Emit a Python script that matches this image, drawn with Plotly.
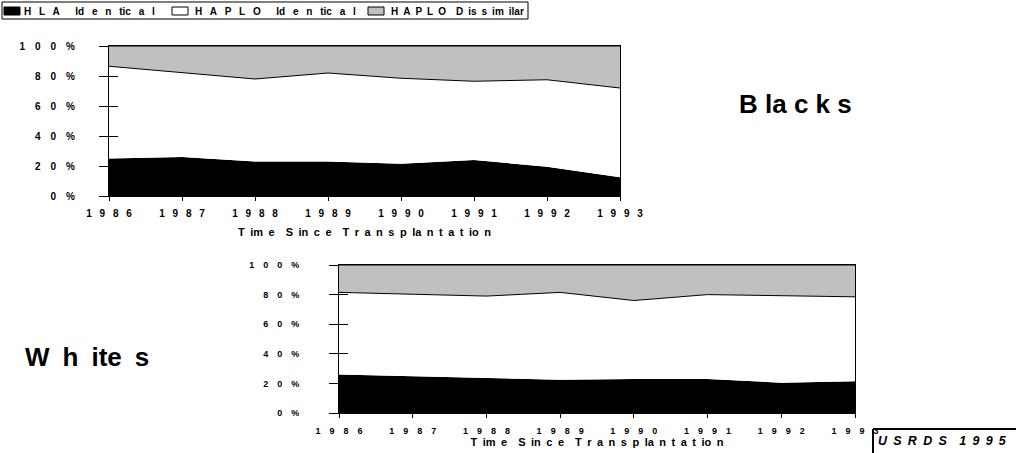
import plotly.graph_objects as go

years = [1986, 1987, 1988, 1989, 1990, 1991, 1992, 1993]
year_labels = ["1 9 8 6", "1 9 8 7", "1 9 8 8", "1 9 8 9", "1 9 9 0", "1 9 9 1", "1 9 9 2", "1 9 9 3"]
pct_vals = [0, 20, 40, 60, 80, 100]
pct_labels = ["0 %", "2 0 %", "4 0 %", "6 0 %", "8 0 %", "1 0 0 %"]

series_names = ["H L A  Id e n tic a l", "H A P L O  Id e n tic a l", "H A P L O  D is s im ilar"]
axis_title = "T im e  S in c e  T r a n s p la n t a t io n"
group_labels = ["B la c k s", "W h ite s"]
source_label = "U S R D S  1 9 9 5"

# Blacks (percent of transplants)
blacks_hla = [25, 26, 23, 23, 21.5, 24, 19.5, 12.5]
blacks_haplo_id = [61.5, 56, 55, 59, 57, 52.5, 58, 59.5]
blacks_haplo_dis = [13.5, 18, 22, 18, 21.5, 23.5, 22.5, 28]

# Whites
whites_hla = [26, 25, 24, 22.5, 23, 23, 20.5, 21.5]
whites_haplo_id = [55.5, 55.5, 55, 59, 53, 57, 58.5, 57]
whites_haplo_dis = [18.5, 19.5, 21, 18.5, 24, 20, 21, 21.5]

fills = ["#000000", "#FFFFFF", "#C0C0C0"]
line_w = [0, 1, 1]

FONT = "Arial, Liberation Sans, sans-serif"
EN = "\u2002"
EM = "\u2003"
NB = "\u00a0"


def sp(text, spacer):
    return text.replace(" ", spacer)


W, H = 1016, 453


def px_x(p):
    return p / W


def px_y(p):
    return 1 - p / H


fig = go.Figure()


def add_group(vals_list, xa, ya, group):
    for i, (name, vals) in enumerate(zip(series_names, vals_list)):
        fig.add_trace(go.Scatter(
            x=years, y=vals, name=name, mode="lines",
            stackgroup=group, fillcolor=fills[i],
            line=dict(color="#000000", width=line_w[i]),
            xaxis=xa, yaxis=ya, showlegend=False,
            hoverinfo="skip",
        ))


add_group([blacks_hla, blacks_haplo_id, blacks_haplo_dis], "x", "y", "b")
add_group([whites_hla, whites_haplo_id, whites_haplo_dis], "x2", "y2", "w")
# carriers for the inner half of the cross tick marks
fig.add_trace(go.Scatter(x=[years[0]], y=[0], mode="markers", marker=dict(opacity=0),
                         xaxis="x", yaxis="y3", showlegend=False, hoverinfo="skip"))
fig.add_trace(go.Scatter(x=[years[0]], y=[0], mode="markers", marker=dict(opacity=0),
                         xaxis="x2", yaxis="y4", showlegend=False, hoverinfo="skip"))

axis_common = dict(showgrid=False, zeroline=False, showline=True, linecolor="#000000",
                   linewidth=1, mirror=True, automargin=False, tickcolor="#000000", tickwidth=1)

fig.update_layout(
    template="none",
    width=W, height=H,
    margin=dict(l=0, r=0, t=0, b=0),
    paper_bgcolor="white", plot_bgcolor="white",
    font=dict(family=FONT, color="#000000"),
    showlegend=False,
    xaxis=dict(domain=[px_x(109), px_x(620)], range=[1986, 1993], anchor="y",
               tickvals=years, ticktext=[sp(t, EN + " ") for t in year_labels],
               ticks="outside", ticklen=4, ticklabelstandoff=4,
               tickfont=dict(size=10, weight="bold"),
               title=dict(text=sp(axis_title, EN), font=dict(size=11, weight="bold"), standoff=10),
               **axis_common),
    yaxis=dict(domain=[px_y(196), px_y(46)], range=[0, 100], anchor="x",
               tickvals=pct_vals, ticktext=[sp(t, EM) for t in pct_labels],
               ticks="outside", ticklen=9, ticklabelstandoff=22,
               tickfont=dict(size=10, weight="bold"), **axis_common),
    yaxis3=dict(overlaying="y", range=[0, 100], anchor="x", side="left",
                tickvals=pct_vals, showticklabels=False, ticks="inside", ticklen=9,
                tickcolor="#000000", showline=False, showgrid=False, zeroline=False,
                automargin=False),
    xaxis2=dict(domain=[px_x(339), px_x(855)], range=[1986, 1993], anchor="y2",
                tickvals=years, ticktext=[sp(t, EM) for t in year_labels],
                ticks="outside", ticklen=4, ticklabelstandoff=5,
                tickfont=dict(size=9, weight="bold"),
                title=dict(text=sp(axis_title, EN), font=dict(size=11, weight="bold"), standoff=3),
                **axis_common),
    yaxis2=dict(domain=[px_y(413), px_y(265)], range=[0, 100], anchor="x2",
                tickvals=pct_vals, ticktext=[sp(t, EM) for t in pct_labels],
                ticks="outside", ticklen=9, ticklabelstandoff=28,
                tickfont=dict(size=9, weight="bold"), **axis_common),
    yaxis4=dict(overlaying="y2", range=[0, 100], anchor="x2", side="left",
                tickvals=pct_vals, showticklabels=False, ticks="inside", ticklen=9,
                tickcolor="#000000", showline=False, showgrid=False, zeroline=False,
                automargin=False),
)

# legend (built from the series names)
swatch_x = [4, 172, 368]
text_x = [22, 193, 389]
legend_spacers = [EN + " ", EN + " ", EN]
fig.add_shape(type="rect", xref="paper", yref="paper",
              x0=px_x(2), x1=px_x(528), y0=px_y(19), y1=px_y(2),
              line=dict(color="#000000", width=1), fillcolor="white")
for i, name in enumerate(series_names):
    fig.add_shape(type="rect", xref="paper", yref="paper",
                  x0=px_x(swatch_x[i]), x1=px_x(swatch_x[i] + 16),
                  y0=px_y(15), y1=px_y(7),
                  line=dict(color="#000000", width=1), fillcolor=fills[i])
    fig.add_annotation(text=sp(name, legend_spacers[i]), x=px_x(text_x[i]), y=px_y(11),
                       xref="paper", yref="paper", xanchor="left", yanchor="middle",
                       showarrow=False, font=dict(size=10, family=FONT, weight="bold"))

fig.add_annotation(text=sp(group_labels[0], NB), x=px_x(795), y=px_y(104),
                   xref="paper", yref="paper", xanchor="center", yanchor="middle",
                   showarrow=False, font=dict(size=26, family=FONT, weight="bold"))
fig.add_annotation(text=sp(group_labels[1], EN), x=px_x(87), y=px_y(357),
                   xref="paper", yref="paper", xanchor="center", yanchor="middle",
                   showarrow=False, font=dict(size=26, family=FONT, weight="bold"))
fig.add_annotation(text="<i>" + sp(source_label, EN) + "</i>", x=px_x(942), y=px_y(441),
                   xref="paper", yref="paper", xanchor="center", yanchor="middle",
                   showarrow=False, font=dict(size=12.5, family=FONT, weight="bold"))

fig.add_shape(type="line", xref="paper", yref="paper", x0=px_x(873), x1=px_x(1016),
              y0=px_y(429), y1=px_y(429), line=dict(color="#000000", width=2))
fig.add_shape(type="line", xref="paper", yref="paper", x0=px_x(873), x1=px_x(873),
              y0=px_y(429), y1=0, line=dict(color="#000000", width=2))

fig.write_html("out.html", config={"displayModeBar": False},
               post_script="document.body.style.margin='0';document.body.style.overflow='hidden';")
